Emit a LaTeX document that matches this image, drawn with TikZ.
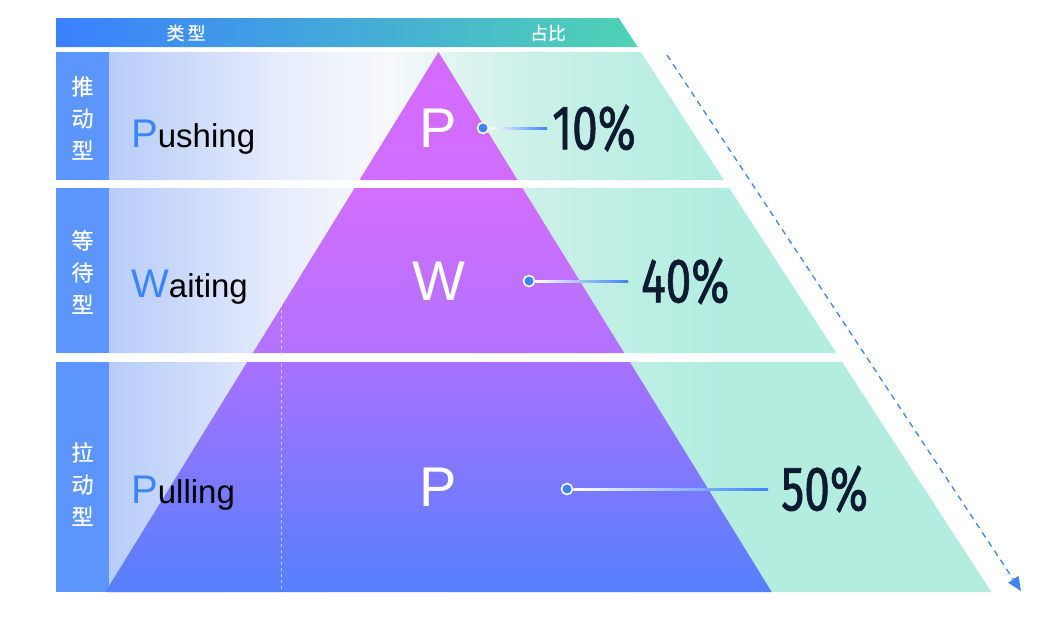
\documentclass[tikz,border=0pt]{standalone}
\usepackage{fontspec}
\setmainfont{Liberation Sans}
\newfontfamily\cjkfont[FakeBold=0.6]{Noto Sans CJK SC}
\newfontfamily\pctfont[FakeStretch=0.73,FakeBold=1]{Fira Sans}
\usetikzlibrary{arrows.meta}

\definecolor{hdleft}{HTML}{3A80FE}
\definecolor{hdright}{HTML}{4FD3B4}
\definecolor{colblue}{HTML}{5C96FC}
\definecolor{pblue}{HTML}{3A85FA}
\definecolor{dotblue}{HTML}{3D84F6}
\definecolor{pctnavy}{HTML}{0E1A30}
\definecolor{bandA}{HTML}{B7CCFA}
\definecolor{bandB}{HTML}{E6ECFB}
\definecolor{bandC}{HTML}{F7F9FB}
\definecolor{bandD}{HTML}{DDF4EF}
\definecolor{bandE}{HTML}{C9F0E7}
\definecolor{bandF}{HTML}{B2EDE0}
\definecolor{pyrA}{HTML}{D56BFF}
\definecolor{pyrB}{HTML}{D06DFF}
\definecolor{pyrC}{HTML}{D26DFF}
\definecolor{pyrD}{HTML}{B273FF}
\definecolor{pyrE}{HTML}{A871FF}
\definecolor{pyrF}{HTML}{5580FD}

% x: 109 -> 25bp, 992 -> 75bp
\pgfdeclarehorizontalshading{bandshade}{100bp}{color(0bp)=(bandA); color(25bp)=(bandA);
  color(34.7bp)=(bandB); color(41bp)=(bandC); color(45bp)=(bandD);
  color(49.5bp)=(bandE); color(59.7bp)=(bandF); color(100bp)=(bandF)}

\begin{document}
\begin{tikzpicture}[x=1pt,y=-1pt,
    hdtext/.style={text=white,font=\cjkfont\fontsize{18}{18}\selectfont},
    sidetext/.style={text=white,align=center,font=\cjkfont\fontsize{22}{32}\selectfont},
    kind/.style={anchor=base west,inner sep=0pt,font=\fontsize{33}{33}\selectfont},
    bigletter/.style={text=white,inner sep=0pt,font=\fontsize{56}{56}\selectfont},
    dotmark/.style={circle,fill=dotblue,draw=white,line width=1.6pt,minimum size=11pt,inner sep=0pt},
    share/.style={anchor=west,inner sep=0pt,text=pctnavy,font=\pctfont\fontsize{63}{63}\selectfont},
    trend/.style={dotblue,line width=1.3pt,dash pattern=on 6pt off 5pt,-{Triangle[length=14pt,width=12pt]}}]
  \useasboundingbox (0,0) rectangle (1054,616);

  % Header bar
  \shade[left color=hdleft,right color=hdright] (56,18) -- (618.8,18) -- (637.6,47) -- (56,47) -- cycle;
  \node[hdtext] (hdkind) at (186,33) {类\,型};
  \node[hdtext] (hdshare) at (548,33) {占比};

  % Row backgrounds
  \begin{scope}
    \clip (109,52) -- (640.9,52) -- (724,180) -- (109,180) -- cycle
          (109,188) -- (729.2,188) -- (836.3,353) -- (109,353) -- cycle
          (109,362) -- (842.1,362) -- (991.4,592) -- (109,592) -- cycle;
    \shade[shading=bandshade] (109,52) rectangle (992,592);
  \end{scope}

  % Type columns
  \foreach \ya/\yb in {52/180,188/353,362/592}
    \fill[colblue] (56,\ya) rectangle (109,\yb);

  % Pyramid
  \shade[top color=pyrA,bottom color=pyrB] (438.5,52) -- (517.5,180) -- (359.5,180) -- cycle;
  \shade[top color=pyrC,bottom color=pyrD] (354.6,188) -- (522.4,188) -- (624.2,353) -- (252.8,353) -- cycle;
  \shade[top color=pyrE,bottom color=pyrF] (247.2,362) -- (629.8,362) -- (771.7,592) -- (105.3,592) -- cycle;

  % Dotted guide
  \draw[white,opacity=0.6,line width=1pt,dash pattern=on 3pt off 3pt] (281,52) -- (281,600);

  % Vertical type labels
  \node[sidetext] (side1) at (82.5,118) {推\\动\\型};
  \node[sidetext] (side2) at (82.5,272) {等\\待\\型};
  \node[sidetext] (side3) at (82.5,484) {拉\\动\\型};

  % Type names
  \node[kind] (name1) at (131,147) {{\color{pblue}\fontsize{40}{40}\selectfont P}ushing};
  \node[kind] (name2) at (131,297) {{\color{pblue}\fontsize{40}{40}\selectfont W}aiting};
  \node[kind] (name3) at (131,503) {{\color{pblue}\fontsize{40}{40}\selectfont P}ulling};

  % Letters in the pyramid
  \node[bigletter] (ltr1) at (438.5,128) {P};
  \node[bigletter] (ltr2) at (438.5,281) {W};
  \node[bigletter] (ltr3) at (438.5,487) {P};

  % Shares with leaders
  \foreach \n/\dx/\lx/\y/\v/\gap in {1/483/552/128/10/5,2/529/641/281/40/13,3/567/781/489/50/13} {
    \node[dotmark] (dot\n) at (\dx,\y) {};
    \node[share] (val\n) at (\lx,\y) {\v\%};
    \shade[left color=white,right color=dotblue] ([yshift=-1pt]dot\n.east) rectangle ([xshift=-\gap pt,yshift=1pt]val\n.west);
  }

  % Trend arrow
  \coordinate (trendS) at (667,55);
  \coordinate (trendE) at (1021,591);
  \draw[trend] (trendS) -- (trendE);
\end{tikzpicture}
\end{document}
